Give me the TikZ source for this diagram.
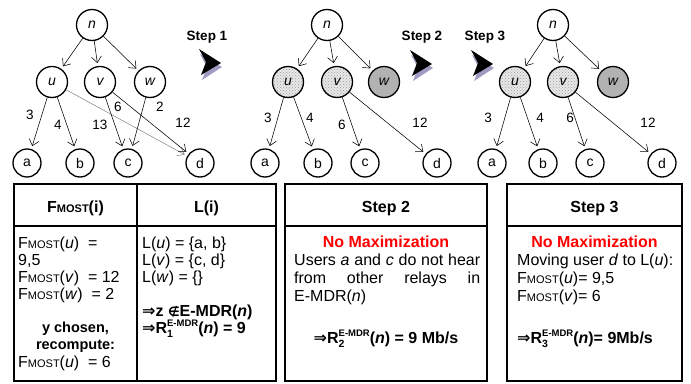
\documentclass[tikz,border=0pt]{standalone}
\usepackage{fontspec}
\setmainfont{Liberation Sans}
\newfontfamily\symf{DejaVu Sans}
\usetikzlibrary{arrows.meta,patterns}

\definecolor{shadowc}{RGB}{160,155,195}
\definecolor{wgray}{RGB}{178,178,178}
\definecolor{dotbg}{RGB}{232,232,232}

\newcommand\fz[1]{\fontsize{#1}{#1}\selectfont}
\newcommand\Fm{F{\fz{11}MOST}}
\newcommand\Imp{{\symf\bfseries ⇒}}
\newcommand\Rx[1]{R\rlap{\raisebox{-4pt}{\fz{10.5}#1}}\raisebox{7pt}{\fz{9.5}E-MDR}}

\tikzset{
  inn/.style={circle, draw, line width=1.3pt, minimum size=31pt, inner sep=0pt,
              font=\itshape\fontsize{14}{14}\selectfont},
  leaf/.style={circle, draw, line width=1.3pt, minimum size=28pt, inner sep=0pt,
              font=\fontsize{14}{14}\selectfont},
  dotted fill/.style={preaction={fill=dotbg}, pattern=crosshatch dots, pattern color=gray!75},
  gray fill/.style={fill=wgray},
  edge/.style={-{Straight Barb[length=6pt,width=10pt]}, line width=0.55pt, shorten >=3pt},
  lbl/.style={inner sep=0pt, font=\fontsize{13.5}{13.5}\selectfont},
  txt/.style={inner sep=0pt, font=\fontsize{16}{17.5}\selectfont},
  btxt/.style={inner sep=0pt, font=\bfseries\fontsize{16}{17.5}\selectfont},
  steplbl/.style={inner sep=0pt, font=\bfseries\fontsize{13.5}{13.5}\selectfont},
  boxline/.style={line width=1.6pt},
  steparrow/.pic={
    \fill[shadowc] (1,5) -- (23,18) -- (3,31) -- (8,18) -- cycle;
    \fill[black] (0,0) -- (22,14) -- (2,26) -- (7,13) -- cycle;
  }
}

\begin{document}
\begin{tikzpicture}[x=1pt,y=-1pt]
\useasboundingbox (0,0) rectangle (691,383);

% ---------------- Graph 1 ----------------
\node[inn] (n1) at (92,25) {n};
\node[inn] (u1) at (52,82) {u};
\node[inn] (v1) at (100,82) {v};
\node[inn] (w1) at (150,82) {w};
\node[leaf] (a1) at (27,163) {a};
\node[leaf] (b1) at (80,163) {b};
\node[leaf] (c1) at (128,163) {c};
\node[leaf] (d1) at (200,163) {d};
\draw[edge] (n1) -- (u1);
\draw[edge] (n1) -- (v1);
\draw[edge] (n1) -- (w1);
\draw[edge] (u1) -- (a1);
\draw[edge] (u1) -- (b1);
\draw[edge, draw=black!55, line width=0.45pt] (u1) -- (d1);
\draw[edge] (v1) -- (c1);
\draw[edge] (v1) -- (d1);
\draw[edge] (w1) -- (c1);
\node[lbl] (l13) at (30,115) {3};
\node[lbl] (l14) at (58,125) {4};
\node[lbl] (l113) at (100,125) {13};
\node[lbl] (l16) at (118,107) {6};
\node[lbl] (l12) at (160,107) {2};
\node[lbl] (l112) at (183,123) {12};

% ---------------- Graph 2 ----------------
\node[inn] (n2) at (327,25) {n};
\node[inn, dotted fill] (u2) at (288,82) {u};
\node[inn, dotted fill] (v2) at (337,82) {v};
\node[inn, gray fill] (w2) at (384,82) {w};
\node[leaf] (a2) at (265,163) {a};
\node[leaf] (b2) at (318,163) {b};
\node[leaf] (c2) at (365,163) {c};
\node[leaf] (d2) at (437,163) {d};
\draw[edge] (n2) -- (u2);
\draw[edge] (n2) -- (v2);
\draw[edge] (n2) -- (w2);
\draw[edge] (u2) -- (a2);
\draw[edge] (u2) -- (b2);
\draw[edge] (v2) -- (c2);
\draw[edge] (v2) -- (d2);
\node[lbl] (l23) at (268,118) {3};
\node[lbl] (l24) at (310,118) {4};
\node[lbl] (l26) at (342,125) {6};
\node[lbl] (l212) at (420,123) {12};

% ---------------- Graph 3 ----------------
\node[inn] (n3) at (553,25) {n};
\node[inn, dotted fill] (u3) at (515,82) {u};
\node[inn, dotted fill] (v3) at (563,82) {v};
\node[inn, gray fill] (w3) at (613,82) {w};
\node[leaf] (a3) at (492,163) {a};
\node[leaf] (b3) at (543,163) {b};
\node[leaf] (c3) at (590,163) {c};
\node[leaf] (d3) at (662,163) {d};
\draw[edge] (n3) -- (u3);
\draw[edge] (n3) -- (v3);
\draw[edge] (n3) -- (w3);
\draw[edge] (u3) -- (a3);
\draw[edge] (u3) -- (b3);
\draw[edge] (v3) -- (c3);
\draw[edge] (v3) -- (d3);
\node[lbl] (l33) at (488,118) {3};
\node[lbl] (l34) at (540,118) {4};
\node[lbl] (l36) at (570,118) {6};
\node[lbl] (l312) at (648,123) {12};

% ---------------- Step markers ----------------
\node[steplbl] (s1) at (207,37) {Step 1};
\pic at (199,49) {steparrow};
\node[steplbl] (s2) at (422,37) {Step 2};
\pic at (410,50) {steparrow};
\node[steplbl] (s3) at (485,37) {Step 3};
\pic at (471,50) {steparrow};

% ---------------- Box 1 ----------------
\draw[boxline] (14,184) rectangle (276,381);
\draw[boxline] (137,184) -- (137,381);
\draw[boxline] (14,226) -- (276,226);
\node[btxt, anchor=base] (h1) at (75.5,212) {F{\fz{11}MOST}(i)};
\node[btxt, anchor=base] (h2) at (206.5,212) {L(i)};

\node[txt, anchor=base west] (f1) at (18,248) {\Fm(\textit{u})\ \ =};
\node[txt, anchor=base west] (f2) at (18,265) {9,5};
\node[txt, anchor=base west] (f3) at (18,282) {\Fm(\textit{v})\ \ = 12};
\node[txt, anchor=base west] (f4) at (18,299) {\Fm(\textit{w})\ \ = 2};
\node[btxt, anchor=base, font=\bfseries\fontsize{14.5}{14.5}\selectfont] (f5) at (75.5,332) {y chosen,};
\node[btxt, anchor=base, font=\bfseries\fontsize{14.5}{14.5}\selectfont] (f6) at (75.5,349) {recompute:};
\node[txt, anchor=base west] (f7) at (18,367) {\Fm(\textit{u})\ \ = 6};

\node[txt, anchor=base west] (g1) at (142,248) {L(\textit{u}) = \{a, b\}};
\node[txt, anchor=base west] (g2) at (142,265) {L(\textit{v}) = \{c, d\}};
\node[txt, anchor=base west] (g3) at (142,282) {L(\textit{w}) = \{\}};
\node[btxt, anchor=base west] (g4) at (142,316) {\Imp z {\symf\fz{13}∉}E-MDR(\textit{n})};
\node[btxt, anchor=base west] (g5) at (142,333) {\Imp\Rx{1}(\textit{n}) = 9};

% ---------------- Box 2 ----------------
\draw[boxline] (285,184) rectangle (487,381);
\draw[boxline] (285,226) -- (487,226);
\node[btxt, anchor=base] (h3) at (386,212) {Step 2};
\node[btxt, anchor=base, text=red] (p0) at (386,247) {No Maximization};
\node[txt, anchor=base west] (p1) at (294,265) {\makebox[186pt][s]{Users \textit{a} and \textit{c} do not hear}};
\node[txt, anchor=base west] (p2) at (294,283) {\makebox[186pt][s]{from other relays in}};
\node[txt, anchor=base west] (p3) at (294,301) {E-MDR(\textit{n})};
\node[btxt, anchor=base] (p4) at (386,343) {\Imp\Rx{2}(\textit{n}) = 9 Mb/s};

% ---------------- Box 3 ----------------
\draw[boxline] (507,184) rectangle (682,381);
\draw[boxline] (507,226) -- (682,226);
\node[btxt, anchor=base] (h4) at (594.5,212) {Step 3};
\node[btxt, anchor=base, text=red] (q0) at (594.5,247) {No Maximization};
\node[txt, anchor=base west] (q1) at (517,265) {Moving user \textit{d} to L(\textit{u}):};
\node[txt, anchor=base west] (q2) at (517,283) {\Fm(\textit{u})= 9,5};
\node[txt, anchor=base west] (q3) at (517,301) {\Fm(\textit{v})= 6};
\node[btxt, anchor=base west] (q4) at (517,343) {\Imp\Rx{3}(\textit{n})= 9Mb/s};
\end{tikzpicture}
\end{document}
